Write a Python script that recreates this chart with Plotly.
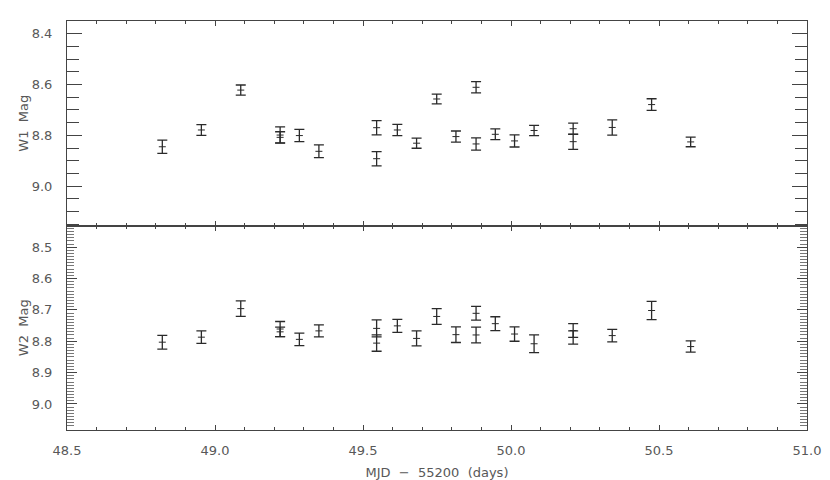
import plotly.graph_objects as go
from plotly.subplots import make_subplots

# MJD - 55200 of each single exposure
mjd = [48.822, 48.954, 49.087, 49.220, 49.220, 49.285, 49.351, 49.546, 49.546,
       49.616, 49.681, 49.749, 49.814, 49.882, 49.882, 49.947, 50.012, 50.078,
       50.210, 50.210, 50.342, 50.475, 50.607]

w1_mag = [8.845, 8.779, 8.622, 8.799, 8.808, 8.801, 8.863, 8.770, 8.892,
          8.779, 8.831, 8.657, 8.805, 8.611, 8.834, 8.796, 8.822, 8.781,
          8.774, 8.825, 8.769, 8.679, 8.826]
w1_err = [0.026, 0.021, 0.020, 0.032, 0.022, 0.024, 0.025, 0.028, 0.028,
          0.022, 0.020, 0.019, 0.022, 0.022, 0.024, 0.021, 0.024, 0.020,
          0.022, 0.030, 0.030, 0.023, 0.019]

w2_mag = [8.803, 8.787, 8.696, 8.761, 8.770, 8.794, 8.767, 8.759, 8.806,
          8.751, 8.791, 8.721, 8.779, 8.711, 8.780, 8.744, 8.777, 8.808,
          8.766, 8.788, 8.782, 8.702, 8.817]
w2_err = [0.022, 0.020, 0.025, 0.024, 0.015, 0.020, 0.019, 0.027, 0.026,
          0.021, 0.024, 0.025, 0.025, 0.022, 0.025, 0.022, 0.023, 0.028,
          0.022, 0.021, 0.020, 0.029, 0.018]

ink = '#2a2a2a'
frame = '#444444'
txt = dict(family='DejaVu Sans', size=13, color='#585858')
nb = '\u00a0'

fig = make_subplots(rows=2, cols=1, shared_xaxes=True, vertical_spacing=0)

for row, mag, err in [(1, w1_mag, w1_err), (2, w2_mag, w2_err)]:
    fig.add_trace(go.Scatter(
        x=mjd, y=mag, mode='markers',
        marker=dict(symbol='line-ew', size=5, color=ink,
                    line=dict(color=ink, width=1)),
        error_y=dict(type='data', array=err, visible=True,
                     color=ink, thickness=1.3, width=5),
        showlegend=False, hoverinfo='x+y'), row=row, col=1)

fig.update_xaxes(range=[48.5, 51.0], dtick=0.5, tick0=48.5, ticks='inside',
                 ticklen=5, tickcolor=frame, showline=True, linecolor=frame,
                 linewidth=1, mirror='ticks', showgrid=False, zeroline=False,
                 automargin=False,
                 minor=dict(dtick=0.1, ticks='inside', ticklen=3,
                            tickcolor=frame, showgrid=False),
                 tickfont=txt)
fig.update_xaxes(showticklabels=False, row=1, col=1)
fig.update_xaxes(tickformat='.1f', ticklabelstandoff=8,
                 title=dict(text=f'MJD{nb}{nb}\u2212{nb}{nb}55200{nb}{nb}(days)',
                            font=txt, standoff=15),
                 row=2, col=1)

fig.update_yaxes(range=[9.155, 8.35], dtick=0.2, tick0=8.4, tickformat='.1f',
                 ticks='inside', ticklen=15, tickcolor=frame,
                 showline=True, linecolor=frame, linewidth=1, mirror='ticks',
                 showgrid=False, zeroline=False, tickfont=txt,
                 ticklabelstandoff=11, automargin=False,
                 minor=dict(dtick=0.05, ticks='inside', ticklen=12,
                            tickcolor=frame, showgrid=False),
                 title=dict(text=f'W1{nb}{nb}Mag', font=txt, standoff=0),
                 row=1, col=1)
fig.update_yaxes(range=[9.083, 8.431], dtick=0.1, tick0=8.5, tickformat='.1f',
                 ticks='inside', ticklen=10, tickcolor=frame,
                 showline=True, linecolor=frame, linewidth=1, mirror='ticks',
                 showgrid=False, zeroline=False, tickfont=txt,
                 ticklabelstandoff=11, automargin=False,
                 minor=dict(dtick=0.01, ticks='inside', ticklen=7,
                            tickcolor='#777777', showgrid=False),
                 title=dict(text=f'W2{nb}{nb}Mag', font=txt, standoff=0),
                 row=2, col=1)

fig.update_layout(width=830, height=480,
                  margin=dict(l=67, r=23, t=21, b=50),
                  paper_bgcolor='white', plot_bgcolor='white',
                  font=txt)

# the default page has an 8px body margin; drop it so the figure sits at 0,0
fig.write_html("out.html", config={'displayModeBar': False},
               post_script="document.body.style.margin='0';"
                           "document.body.style.overflow='hidden';")
